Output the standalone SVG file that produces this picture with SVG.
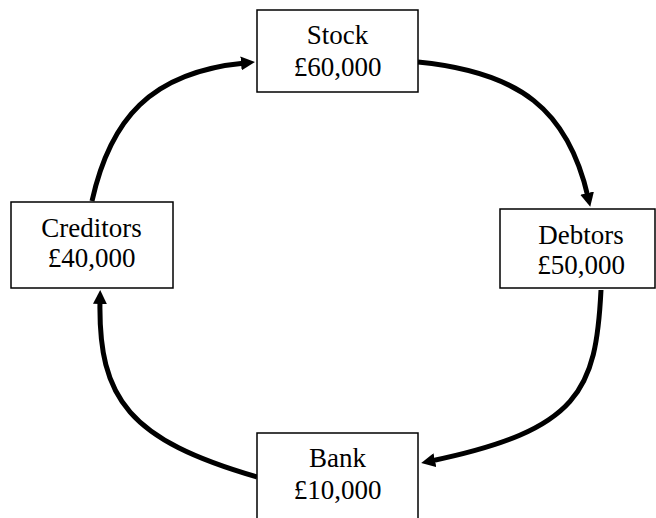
<svg xmlns="http://www.w3.org/2000/svg" width="656" height="518" viewBox="0 0 656 518">
  <style>
    .box { fill: #ffffff; stroke: #000000; stroke-width: 1.5; }
    .label { font-family: "Liberation Serif", "Times New Roman", serif; font-size: 27px; fill: #000000; text-anchor: middle; }
    .flow { fill: none; stroke: #000000; stroke-width: 5; stroke-linecap: butt; marker-end: url(#head); }
  </style>
  <defs>
    <marker id="head" viewBox="0 0 14 14" refX="4" refY="7" markerWidth="14" markerHeight="14" markerUnits="userSpaceOnUse" orient="auto">
      <path d="M0,0 L14,7 L0,14 z" fill="#000000"/>
    </marker>
  </defs>
  <rect width="656" height="518" fill="#ffffff"/>

  <!-- cash cycle connectors -->
  <g id="connectors">
    <path class="flow" d="M92,201 C110,120 150,72 245,63"/>
    <path class="flow" d="M418,62 C520,72 568,110 588,197"/>
    <path class="flow" d="M601,290 C596,390 580,430 431,461"/>
    <path class="flow" d="M257,477 C130,440 98,400 100,300"/>
  </g>

  <g id="stock">
    <rect class="box" x="257" y="10" width="161" height="82"/>
    <text class="label" x="337.5" y="44">Stock</text>
    <text class="label" x="337.5" y="76">£60,000</text>
  </g>

  <g id="debtors">
    <rect class="box" x="500" y="209" width="155" height="79"/>
    <text class="label" x="581" y="244">Debtors</text>
    <text class="label" x="581" y="274">£50,000</text>
  </g>

  <g id="bank">
    <rect class="box" x="257" y="433" width="161" height="90"/>
    <text class="label" x="337.5" y="467">Bank</text>
    <text class="label" x="337.5" y="499">£10,000</text>
  </g>

  <g id="creditors">
    <rect class="box" x="11" y="202" width="162" height="86"/>
    <text class="label" x="91.5" y="237">Creditors</text>
    <text class="label" x="91.5" y="267">£40,000</text>
  </g>
</svg>
